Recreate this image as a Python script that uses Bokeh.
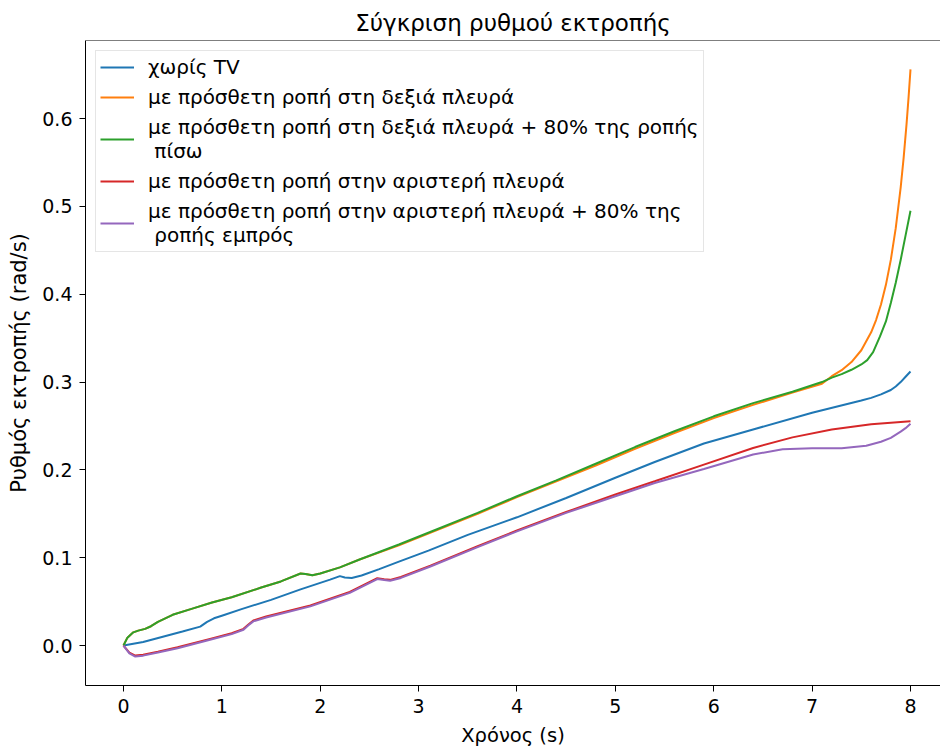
from bokeh.plotting import figure
from bokeh.models import Range1d, SingleIntervalTicker, NumeralTickFormatter, Span, Legend, LegendItem
from bokeh.embed import file_html
from bokeh.resources import INLINE

title_text = "Σύγκριση ρυθμού εκτροπής"
x_label = "Χρόνος (s)"
y_label = "Ρυθμός εκτροπής (rad/s)"

labels = [
    "χωρίς TV",
    "με πρόσθετη ροπή στη δεξιά πλευρά",
    "με πρόσθετη ροπή στη δεξιά πλευρά + 80% της ροπής\n πίσω",
    "με πρόσθετη ροπή στην αριστερή πλευρά",
    "με πρόσθετη ροπή στην αριστερή πλευρά + 80% της\n ροπής εμπρός",
]
colors = ["#1f77b4", "#ff7f0e", "#2ca02c", "#d62728", "#9467bd"]

# χωρίς TV
x_blue = [0, 0.2, 0.4, 0.6, 0.78, 0.85, 0.92, 1.0, 1.2, 1.5, 1.8, 2.1, 2.2, 2.25, 2.32, 2.42,
          2.6, 2.8, 3.1, 3.5, 4.0, 4.5, 5.0, 5.4, 5.9, 6.4, 7.0, 7.5, 7.6, 7.7, 7.8, 7.85, 7.9,
          7.95, 8.0]
y_blue = [0, 0.004, 0.010, 0.016, 0.0215, 0.027, 0.031, 0.034, 0.0415, 0.052, 0.064, 0.075, 0.079,
          0.0775, 0.0768, 0.0797, 0.087, 0.0955, 0.108, 0.126, 0.146, 0.168, 0.191, 0.209, 0.230,
          0.246, 0.265, 0.279, 0.282, 0.286, 0.291, 0.295, 0.300, 0.306, 0.312]

# δεξιά πλευρά + 80% πίσω
x_green = [0, 0.04, 0.1, 0.15, 0.22, 0.28, 0.35, 0.5, 0.7, 0.9, 1.1, 1.4, 1.6, 1.8, 1.85, 1.92,
           2.0, 2.2, 2.4, 2.8, 3.2, 3.6, 4.0, 4.4, 4.8, 5.2, 5.6, 6.0, 6.4, 6.8, 7.1, 7.2, 7.3,
           7.4, 7.5, 7.56, 7.62, 7.69, 7.75, 7.8, 7.85, 7.9, 7.95, 8.0]
y_green = [0, 0.009, 0.015, 0.017, 0.019, 0.022, 0.027, 0.035, 0.042, 0.049, 0.055, 0.066, 0.073,
           0.082, 0.0815, 0.080, 0.082, 0.089, 0.098, 0.115, 0.133, 0.151, 0.170, 0.188, 0.207,
           0.226, 0.244, 0.261, 0.276, 0.289, 0.300, 0.305, 0.309, 0.314, 0.320, 0.325, 0.334,
           0.352, 0.369, 0.390, 0.413, 0.439, 0.467, 0.495]

# δεξιά πλευρά
x_orange = [0, 0.04, 0.1, 0.15, 0.22, 0.28, 0.35, 0.5, 0.7, 0.9, 1.1, 1.4, 1.6, 1.8, 1.85, 1.92,
            2.0, 2.2, 2.4, 2.8, 3.2, 3.6, 4.0, 4.4, 4.8, 5.2, 5.6, 6.0, 6.4, 6.8, 7.1, 7.2, 7.3,
            7.4, 7.5, 7.6, 7.65, 7.7, 7.75, 7.8, 7.85, 7.9, 7.93, 7.96, 7.98, 8.0]
y_orange = [0, 0.009, 0.015, 0.017, 0.019, 0.022, 0.027, 0.035, 0.042, 0.049, 0.055, 0.066, 0.073,
            0.082, 0.0815, 0.080, 0.082, 0.089, 0.098, 0.114, 0.132, 0.150, 0.169, 0.187, 0.205,
            0.224, 0.242, 0.259, 0.274, 0.288, 0.298, 0.3067, 0.3135, 0.3228, 0.3362, 0.3566,
            0.3706, 0.3883, 0.4107, 0.4391, 0.4752, 0.5214, 0.555, 0.594, 0.6235, 0.656]

# αριστερή πλευρά
x_red = [0, 0.06, 0.12, 0.2, 0.35, 0.55, 0.88, 1.1, 1.22, 1.27, 1.32, 1.45, 1.9, 2.3, 2.58, 2.65,
         2.71, 2.82, 3.12, 3.6, 4.0, 4.5, 5.0, 5.4, 5.9, 6.4, 6.8, 7.2, 7.6, 8.0]
y_red = [0, -0.008, -0.0114, -0.0105, -0.007, -0.002, 0.0076, 0.014, 0.019, 0.024, 0.0285, 0.033,
         0.0456, 0.061, 0.0767, 0.0755, 0.0748, 0.078, 0.091, 0.113, 0.131, 0.152, 0.172, 0.187,
         0.206, 0.225, 0.237, 0.246, 0.252, 0.2555]

# αριστερή πλευρά + 80% εμπρός
x_purple = [0, 0.06, 0.12, 0.2, 0.35, 0.55, 0.88, 1.1, 1.22, 1.27, 1.32, 1.45, 1.9, 2.3, 2.58,
            2.65, 2.71, 2.82, 3.12, 3.6, 4.0, 4.5, 5.0, 5.4, 5.9, 6.4, 6.7, 7.0, 7.3, 7.55, 7.7,
            7.8, 7.9, 7.95, 8.0]
y_purple = [0, -0.009, -0.0125, -0.0115, -0.008, -0.003, 0.0066, 0.013, 0.018, 0.023, 0.0275,
            0.032, 0.0446, 0.060, 0.0757, 0.0745, 0.0738, 0.077, 0.090, 0.112, 0.130, 0.151, 0.170,
            0.185, 0.201, 0.2175, 0.2235, 0.2245, 0.2245, 0.2275, 0.232, 0.2365, 0.2435, 0.2475,
            0.2525]

series_x = [x_blue, x_orange, x_green, x_red, x_purple]
series_y = [y_blue, y_orange, y_green, y_red, y_purple]

FONT = "DejaVu Sans"

p = figure(width=940, height=751, output_backend="svg", toolbar_location=None,
           x_range=Range1d(-0.386, 8.305), y_range=Range1d(-0.0455, 0.6889),
           min_border_left=85, min_border_right=0, min_border_top=40, min_border_bottom=66)

p.title.text = title_text
p.title.align = "center"
p.title.text_font = FONT
p.title.text_font_size = "23px"
p.title.text_font_style = "normal"
p.title.text_color = "black"

p.outline_line_color = None
p.xgrid.visible = False
p.ygrid.visible = False
p.background_fill_color = "white"
p.border_fill_color = "white"

p.xaxis.ticker = SingleIntervalTicker(interval=1)
p.yaxis.ticker = SingleIntervalTicker(interval=0.1)
p.yaxis.formatter = NumeralTickFormatter(format="0.0")
for ax in (p.xaxis, p.yaxis):
    ax.minor_tick_line_color = None
    ax.major_tick_out = 6
    ax.major_tick_in = 0
    ax.axis_line_color = "black"
    ax.major_tick_line_color = "black"
    ax.major_label_text_font = FONT
    ax.major_label_text_font_size = "19px"
    ax.major_label_text_color = "black"
    ax.axis_label_text_font = FONT
    ax.axis_label_text_font_style = "normal"
    ax.axis_label_text_color = "black"
    ax.major_label_standoff = 7
p.xaxis.axis_label = x_label
p.yaxis.axis_label = y_label
p.xaxis.axis_label_text_font_size = "19.5px"
p.yaxis.axis_label_text_font_size = "21px"
p.xaxis.axis_label_standoff = 8
p.yaxis.axis_label_standoff = 8

p.add_layout(Span(location=0.6889, dimension="width", line_color="black", line_width=1))

items = []
for xs, ys, c, lab in zip(series_x, series_y, colors, labels):
    r = p.line(xs, ys, line_color=c, line_width=2)
    items.append(LegendItem(label=lab, renderers=[r]))

legend = Legend(items=items, location="top_left", margin=10, padding=4,
                label_text_font=FONT, label_text_font_size="20px", label_text_color="black",
                glyph_width=34, label_standoff=14, spacing=6,
                border_line_color="#cccccc", border_line_width=1,
                background_fill_color="white", background_fill_alpha=0.8)
p.add_layout(legend, "center")

open("out.html", "w").write(file_html(p, INLINE))
